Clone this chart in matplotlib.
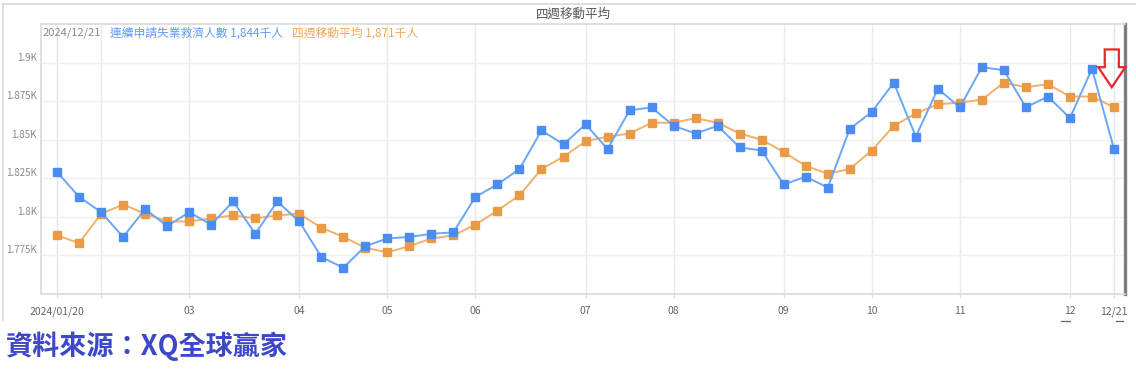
import matplotlib
matplotlib.use("Agg")
import matplotlib.pyplot as plt
import numpy as np
import pandas as pd
from matplotlib.patches import FancyArrow
from matplotlib.lines import Line2D

plt.rcParams['font.family'] = ['Noto Sans CJK TC', 'DejaVu Sans']

# ---------------- data ----------------
weeks = pd.date_range('2024-01-20', '2024-12-21', freq='7D')
claims = [1829, 1813, 1803, 1787, 1805, 1794, 1803, 1795, 1810, 1789,
          1810, 1797, 1774, 1767, 1781, 1786, 1787, 1789, 1790, 1813,
          1821, 1831, 1856, 1847, 1860, 1844, 1869, 1871, 1859, 1854,
          1859, 1845, 1843, 1821, 1826, 1819, 1857, 1868, 1887, 1852,
          1883, 1871, 1897, 1895, 1871, 1878, 1864, 1896, 1844]
avg4 = [1788, 1783, 1802, 1808, 1802, 1797, 1797, 1799, 1801, 1799,
        1801, 1802, 1793, 1787, 1780, 1777, 1781, 1786, 1788, 1795,
        1804, 1814, 1831, 1839, 1849, 1852, 1854, 1861, 1861, 1864,
        1861, 1854, 1850, 1842, 1833, 1828, 1831, 1843, 1859, 1867,
        1873, 1874, 1876, 1887, 1884, 1886, 1878, 1878, 1871]
y_ticks = [1775, 1800, 1825, 1850, 1875, 1900]
y_tick_labels = ['1.775K', '1.8K', '1.825K', '1.85K', '1.875K', '1.9K']
month_labels = ['2024/01/20', '', '03', '04', '05', '06', '07', '08',
                '09', '10', '11', '12']
end_label = '12/21'
title = '四週移動平均'
legend_date = '2024/12/21'
legend_claims = '連續申請失業救濟人數 1,844千人'
legend_avg = '四週移動平均 1,871千人'
source = '資料來源：XQ全球贏家'

BLUE_L = '#6aa6f8'
BLUE_M = '#4a8cf2'
ORANGE_L = '#f2b06a'
ORANGE_M = '#ea9a45'

W, H = 1136, 376
fig = plt.figure(figsize=(W / 100, H / 100), dpi=100)
ax = fig.add_axes([41 / W, 1 - 294 / H, (1125 - 41) / W, (294 - 24) / H])

x = np.arange(len(weeks))
month_pos = [i for i in range(len(weeks))
             if i == 0 or weeks[i].month != weeks[i - 1].month]
tick_pos = month_pos + [len(weeks) - 1]
tick_labels = month_labels + [end_label]

ax.set_xlim(-0.73, 48.5)
ax.set_ylim(1750, 1925)

# grid
for i, p in enumerate(tick_pos):
    c = '#d9e8f8' if (i == 0 or i == len(tick_pos) - 1) else '#e9e9e9'
    ax.axvline(p, color=c, lw=1.0, zorder=0)
for yv in y_ticks:
    ax.axhline(yv, color='#efefef', lw=1.0, zorder=0)

ax.plot(x, avg4, color=ORANGE_L, lw=1.4, marker='s', ms=5.3,
        mfc=ORANGE_M, mec=ORANGE_M, zorder=3)
ax.plot(x, claims, color=BLUE_L, lw=1.4, marker='s', ms=5.3,
        mfc=BLUE_M, mec=BLUE_M, zorder=4)

ax.set_xticks(tick_pos)
ax.set_xticklabels(tick_labels, fontsize=7.5, color='#666666')
ax.tick_params(axis='x', length=3, color='#dddddd', pad=6)
ax.set_yticks(y_ticks)
ax.set_yticklabels(y_tick_labels, fontsize=7, color='#888888')
ax.tick_params(axis='y', length=0, pad=3)
for lab in ax.get_yticklabels():
    lab.set_va('bottom')

for s in ['left', 'bottom', 'top']:
    ax.spines[s].set_color('#d9d9d9')
    ax.spines[s].set_linewidth(1.2)
ax.spines['right'].set_color('#7d7d7d')
ax.spines['right'].set_linewidth(2.4)

# underscores under the last two tick labels
for x0, x1 in [(45.6, 45.98), (48.08, 48.42)]:
    ax.add_line(Line2D([x0, x1], [-0.1, -0.1], transform=ax.get_xaxis_transform(),
                       color='#666666', lw=0.9, clip_on=False))

# red outlined down arrow
arrow = FancyArrow(47.9, 1908.5, 0, 1884 - 1908.5, width=0.64, head_width=1.23,
                   head_length=13, length_includes_head=True, fill=False,
                   ec='#e5262b', lw=1.6, zorder=6, clip_on=False)
ax.add_patch(arrow)

# header / legend text
fig.text(573 / W, 1 - 14 / H, title, ha='center', va='center', fontsize=9,
         color='#555555')
fig.text(43 / W, 1 - 33 / H, legend_date, ha='left', va='center', fontsize=8,
         color='#8a8a8a')
fig.text(110 / W, 1 - 33 / H, legend_claims, ha='left', va='center', fontsize=8.5,
         color='#5f9cf5')
fig.text(292 / W, 1 - 33 / H, legend_avg, ha='left', va='center', fontsize=8.5,
         color='#f0a85a')

# outer frame
fig.add_artist(Line2D([3.5 / W, 3.5 / W], [1 - 3.5 / H, 1 - 320 / H], color='#d8d8d8', lw=1.2))
fig.add_artist(Line2D([3.5 / W, 1.0], [1 - 3.5 / H, 1 - 3.5 / H], color='#d8d8d8', lw=1.2))

# source
fig.text(6 / W, 1 - 346 / H, source, ha='left', va='center', fontsize=19.5,
         fontweight='bold', color='#3c48c8')

fig.savefig('out.png', dpi=100)
